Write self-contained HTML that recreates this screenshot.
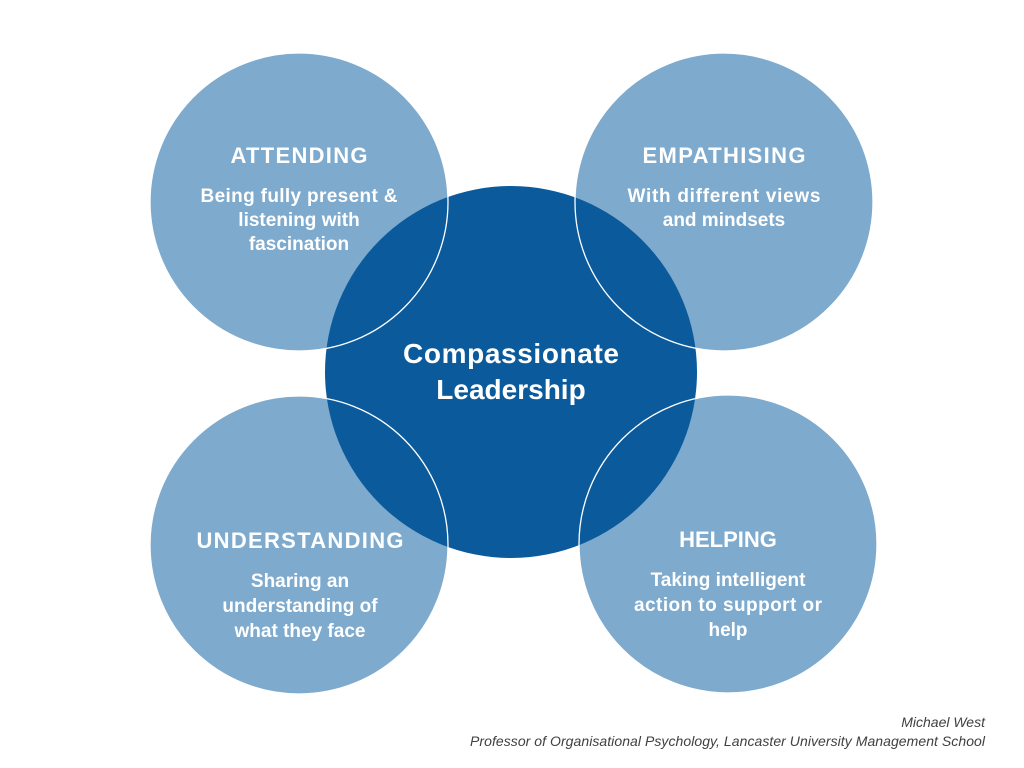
<!DOCTYPE html>
<html><head><style>
body{margin:0;width:1024px;height:768px;background:#fff;overflow:hidden}
svg{display:block}
text{font-family:"Liberation Sans",sans-serif;font-weight:bold;fill:#fff;text-anchor:middle}
.t{font-size:22px}.s{font-size:19px}.c{font-size:28px}
.f{font-family:"Liberation Sans",sans-serif;font-style:italic;font-weight:normal;fill:#404040;font-size:14px;text-anchor:end}
</style></head><body>
<svg width="1024" height="768" viewBox="0 0 1024 768">
<g fill="#7eaacd">
<circle cx="299" cy="202" r="149"/>
<circle cx="724" cy="202" r="149"/>
<circle cx="299" cy="545" r="149"/>
<circle cx="728" cy="544" r="149"/>
</g>
<circle cx="511" cy="372" r="186" fill="#0b5a9c"/>
<g fill="none" stroke="#fff" stroke-width="1.3">
<circle cx="299" cy="202" r="149"/>
<circle cx="724" cy="202" r="149"/>
<circle cx="299" cy="545" r="149"/>
<circle cx="728" cy="544" r="149"/>
</g>
<text class="t" x="299" y="163" textLength="137">ATTENDING</text>
<text class="s" x="299" y="202" textLength="197">Being fully present &amp;</text>
<text class="s" x="299" y="226">listening with</text>
<text class="s" x="299" y="250">fascination</text>
<text class="t" x="724" y="163" textLength="163">EMPATHISING</text>
<text class="s" x="724" y="202" textLength="193">With different views</text>
<text class="s" x="724" y="226">and mindsets</text>
<text class="c" x="511" y="363" textLength="216">Compassionate</text>
<text class="c" x="511" y="399">Leadership</text>
<text class="t" x="300" y="548" textLength="207">UNDERSTANDING</text>
<text class="s" x="300" y="587">Sharing an</text>
<text class="s" x="300" y="612">understanding of</text>
<text class="s" x="300" y="637">what they face</text>
<text class="t" x="728" y="547">HELPING</text>
<text class="s" x="728" y="586">Taking intelligent</text>
<text class="s" x="728" y="611" textLength="188">action to support or</text>
<text class="s" x="728" y="636">help</text>
<text class="f" x="985" y="727">Michael West</text>
<text class="f" x="985" y="746" textLength="515">Professor of Organisational Psychology, Lancaster University Management School</text>
</svg>
</body></html>
